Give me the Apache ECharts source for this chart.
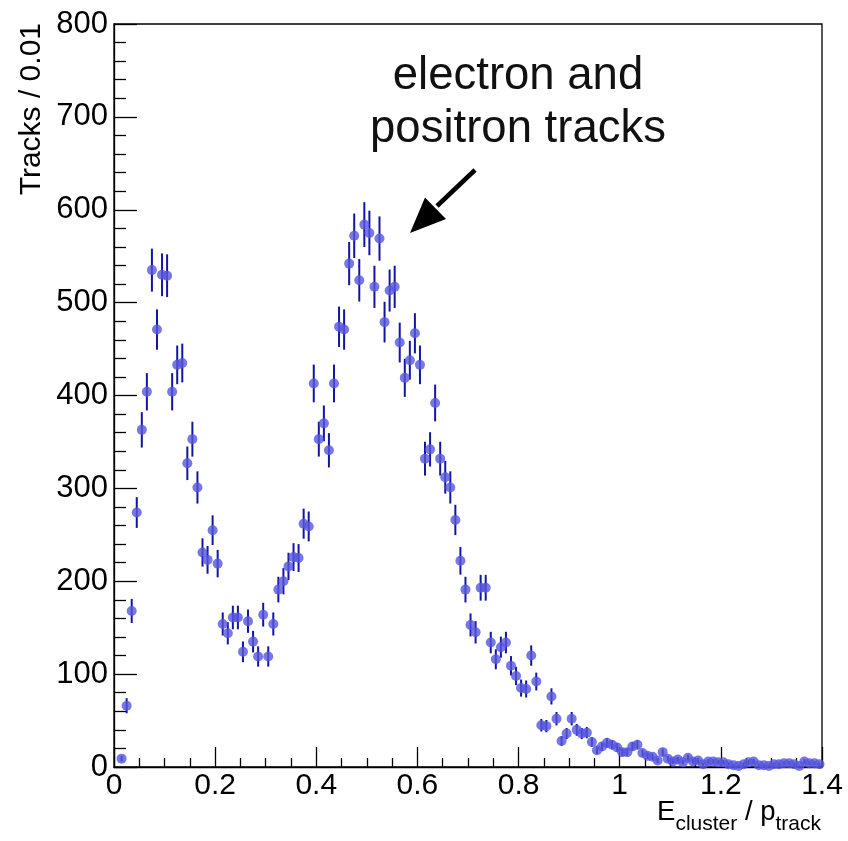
<!DOCTYPE html>
<html>
<head>
<meta charset="utf-8">
<script src="https://cdn.jsdelivr.net/npm/echarts@6/dist/echarts.min.js"></script>
<style>
html,body{margin:0;padding:0;background:#fff;}
#chart{width:848px;height:841px;}
</style>
</head>
<body>
<div id="chart"></div>
<script>
// Histogram: E_cluster / p_track, bin width 0.01 starting at 0
const binStart = 0;
const binWidth = 0.01;
const counts = [
  null, 9, 66, 168, 274, 363, 404, 535, 471, 530,
  529, 404, 433, 435, 327, 353, 301, 231, 223, 255,
  219, 154, 144, 161, 161, 124, 157, 135, 119, 164,
  119, 154, 191, 200, 216, 226, 225, 262, 259, 413,
  353, 370, 341, 413, 474, 471, 542, 572, 524, 584,
  575, 517, 569, 479, 513, 517, 457, 419, 438, 467,
  433, 332, 342, 392, 332, 312, 301, 266, 222, 191,
  153, 145, 193, 193, 134, 116, 129, 134, 109, 98,
  85, 84, 120, 92, 45, 44, 76, 52, 28, 36,
  52, 40, 36, 37, 27, 18, 22, 26, 24, 21,
  16, 16, 22, 24, 15, 12, 11, 7, 16, 9,
  6, 8, 5, 10, 6, 7, 3, 6, 6, 5,
  5, 3, 2, 1, 3, 5, 6, 2, 2, 1,
  3, 3, 4, 4, 3, 1, 6, 4, 4, 3
];
const xTicks = ['0', '0.2', '0.4', '0.6', '0.8', '1', '1.2', '1.4'];
const yTicks = ['0', '100', '200', '300', '400', '500', '600', '700', '800'];

const points = [];
counts.forEach((v, i) => {
  if (v === null) return;
  const x = binStart + (i + 0.5) * binWidth;
  points.push([x, v, Math.sqrt(v)]);
});

const FONT = "'Liberation Sans', Arial, Helvetica, sans-serif";
const mctx = document.createElement('canvas').getContext('2d');
function tw(text, size) { mctx.font = size + 'px ' + FONT; return mctx.measureText(text).width; }

// x-axis title pieces (right-aligned, main text and subscripts)
const MAIN = 27.5, SUB = 21;
const titleRight = 821;
const baseMain = 822, baseSub = 831;
const xTrack = titleRight;
const xSlashP = xTrack - tw('track', SUB);
const xCluster = xSlashP - tw(' / p', MAIN);
const xE = xCluster - tw('cluster', SUB);
function txt(x, base, size, s) {
  return {type: 'text', x: x, y: base - 0.3465 * size,
    style: {text: s, fontFamily: FONT, fontSize: size, fill: '#000', align: 'right', verticalAlign: 'middle'}};
}

const chart = echarts.init(document.getElementById('chart'), null, {renderer: 'canvas'});

chart.setOption({
  animation: false,
  backgroundColor: '#fff',
  grid: {left: 114, right: 26, top: 24, bottom: 74, show: true, borderColor: '#000', borderWidth: 1.3, backgroundColor: 'transparent'},
  xAxis: {
    type: 'value', min: 0, max: 1.4, interval: 0.2,
    axisLine: {show: true, onZero: false, lineStyle: {color: '#000', width: 1.3}},
    axisTick: {show: true, inside: true, length: 20, lineStyle: {color: '#000', width: 1.3}},
    minorTick: {show: true, splitNumber: 4, length: 9, lineStyle: {color: '#000', width: 1.3}},
    splitLine: {show: false},
    axisLabel: {fontFamily: FONT, fontSize: 30, color: '#000', margin: 4,
      formatter: (v) => xTicks[Math.round(v / 0.2)] },
  },
  yAxis: {
    type: 'value', min: 0, max: 800, interval: 100,
    axisLine: {show: true, lineStyle: {color: '#000', width: 1.3}},
    axisTick: {show: true, inside: true, length: 23, lineStyle: {color: '#000', width: 1.3}},
    minorTick: {show: true, splitNumber: 5, length: 12, lineStyle: {color: '#000', width: 1.3}},
    splitLine: {show: false},
    axisLabel: {fontFamily: FONT, fontSize: 31, color: '#000', margin: 6,
      formatter: (v) => yTicks[Math.round(v / 100)] },
  },
  graphic: [
    {
      type: 'text', x: 32, y: 23, rotation: Math.PI / 2,
      style: {text: 'Tracks / 0.01', fontFamily: FONT, fontSize: 30, fill: '#000', align: 'right', verticalAlign: 'middle'}
    },
    txt(xE, baseMain, MAIN, 'E'),
    txt(xCluster, baseSub, SUB, 'cluster'),
    txt(xSlashP, baseMain, MAIN, ' / p'),
    txt(xTrack, baseSub, SUB, 'track'),
    {
      type: 'text', x: 518, y: 50,
      style: {text: 'electron and\npositron tracks', fontFamily: FONT, fontSize: 45.5, lineHeight: 53, fill: '#111', align: 'center', verticalAlign: 'top'}
    },
    {
      type: 'line', shape: {x1: 475, y1: 170, x2: 437, y2: 206},
      style: {stroke: '#000', lineWidth: 4.5}
    },
    {
      type: 'polygon', shape: {points: [[410, 233], [446, 219], [425, 197.5]]},
      style: {fill: '#000'}
    }
  ],
  series: [
    {
      type: 'custom',
      data: points,
      z: 2,
      clip: true,
      renderItem: function (params, api) {
        const x = api.value(0), v = api.value(1), e = api.value(2);
        const lo = api.coord([x, Math.max(0, v - e)]);
        const hi = api.coord([x, v + e]);
        return {
          type: 'line',
          shape: {x1: lo[0], y1: lo[1], x2: hi[0], y2: hi[1]},
          style: {stroke: '#1414a3', lineWidth: 2}
        };
      }
    },
    {
      type: 'scatter',
      data: points.map(p => [p[0], p[1]]),
      symbol: 'circle', symbolSize: 10,
      itemStyle: {color: '#5656de'},
      z: 3
    }
  ]
});
</script>
</body>
</html>
